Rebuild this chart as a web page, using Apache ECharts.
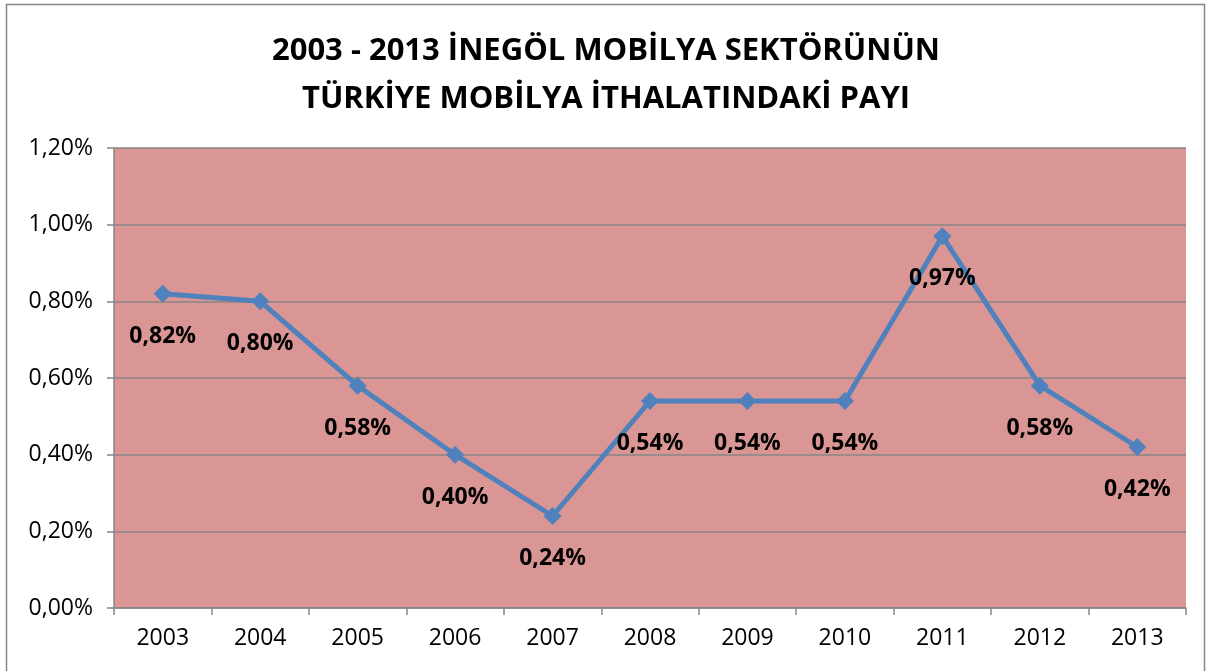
<!DOCTYPE html>
<html>
<head>
<meta charset="utf-8">
<script src="https://cdn.jsdelivr.net/npm/echarts@6/dist/echarts.min.js"></script>
<style>
  html, body { margin: 0; padding: 0; background: #fff; }
  #chart { width: 1212px; height: 671px; }
</style>
</head>
<body>
<div id="chart"></div>
<script>
// data
var years = ['2003','2004','2005','2006','2007','2008','2009','2010','2011','2012','2013'];
var shares = [0.82, 0.80, 0.58, 0.40, 0.24, 0.54, 0.54, 0.54, 0.97, 0.58, 0.42];
var titleLines = ['2003 - 2013 İNEGÖL MOBİLYA SEKTÖRÜNÜN', 'TÜRKİYE MOBİLYA İTHALATINDAKİ PAYI'];

function pct(v) {
    return v.toFixed(2).replace('.', ',') + '%';
}

var chart = echarts.init(document.getElementById('chart'));

var option = {
    backgroundColor: '#ffffff',
    animation: false,
    title: {
        text: titleLines.join('\n'),
        left: 'center',
        top: 22,
        textStyle: {
            fontFamily: 'Open Sans',
            fontWeight: 'bold',
            fontSize: 31,
            lineHeight: 48,
            color: '#000'
        }
    },
    graphic: [{
        type: 'rect',
        shape: { x: 6.5, y: 4.5, width: 1198, height: 680 },
        style: { fill: 'none', stroke: '#868686', lineWidth: 1.5 },
        silent: true
    }],
    grid: {
        left: 114,
        right: 26,
        top: 148,
        bottom: 63,
        show: true,
        backgroundColor: '#D99694',
        borderWidth: 0
    },
    xAxis: {
        type: 'category',
        data: years,
        boundaryGap: true,
        axisLine: { show: true, lineStyle: { color: '#868686', width: 1.5 } },
        axisTick: { show: true, length: 7, alignWithLabel: false, lineStyle: { color: '#868686', width: 1.5 } },
        axisLabel: {
            color: '#000',
            fontFamily: 'Open Sans',
            fontSize: 23,
            margin: 19
        }
    },
    yAxis: {
        type: 'value',
        min: 0,
        max: 1.2,
        interval: 0.2,
        axisLine: { show: true, lineStyle: { color: '#868686', width: 1.5 } },
        axisTick: { show: true, length: 7, lineStyle: { color: '#868686', width: 1.5 } },
        splitLine: { show: true, lineStyle: { color: '#868686', width: 1.5 } },
        axisLabel: {
            color: '#000',
            fontFamily: 'Open Sans',
            fontSize: 23,
            margin: 21,
            formatter: function (v) { return pct(v); }
        }
    },
    series: [{
        type: 'line',
        data: shares,
        symbol: 'diamond',
        symbolSize: 18,
        lineStyle: { color: '#4F81BD', width: 5 },
        itemStyle: { color: '#4F81BD' },
        label: {
            show: true,
            position: 'bottom',
            distance: 22,
            color: '#000',
            fontFamily: 'Open Sans',
            fontWeight: 'bold',
            fontSize: 23,
            formatter: function (p) { return pct(p.value); }
        }
    }]
};

if (option && typeof option === "object") {
    chart.setOption(option, true);
}
</script>
</body>
</html>
